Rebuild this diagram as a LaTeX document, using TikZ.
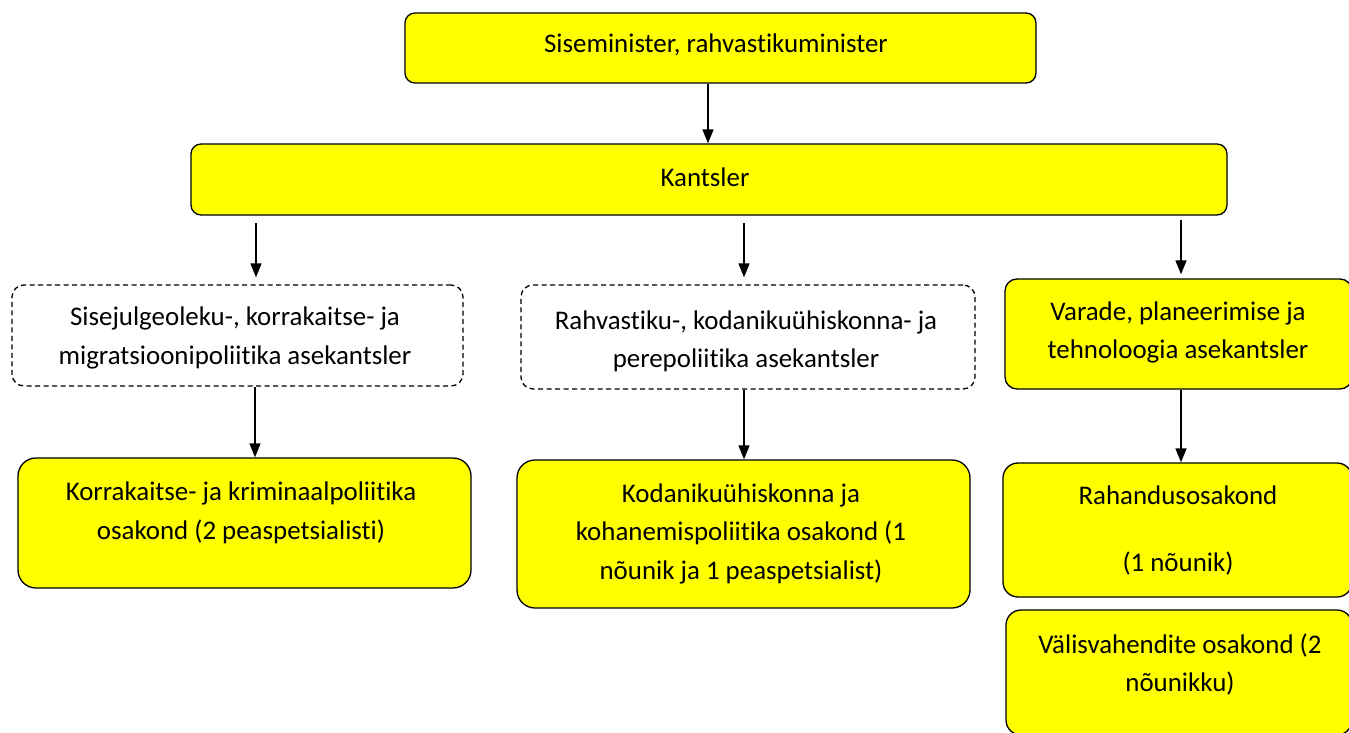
\documentclass[tikz,border=0pt]{standalone}
\usepackage{fontspec}
\setmainfont[RawFeature=-liga]{Carlito}
\usetikzlibrary{arrows.meta,calc}
\definecolor{boxyellow}{HTML}{FFFF00}
\begin{document}
\begin{tikzpicture}[x=1pt,y=-1pt,
  ybox/.style={draw,line width=1.3pt,fill=boxyellow,rounded corners=12pt,inner sep=0pt},
  dbox/.style={draw,line width=1.3pt,dash pattern=on 5pt off 3.5pt,rounded corners=12pt,inner sep=0pt},
  txt/.style={align=center,font=\fontsize{26.9}{38.5}\selectfont,inner sep=0pt},
  arr/.style={line width=1.5pt,-{Triangle[width=11pt,length=14pt]}}]
\useasboundingbox (0,0) rectangle (1349,733);
\clip (0,0) rectangle (1349,733);
% boxes
\node[ybox,rounded corners=10pt,minimum width=631pt,minimum height=70pt] (top) at (720.5,48) {};
\node[ybox,rounded corners=10pt,minimum width=1036pt,minimum height=71pt] (kant) at (709,179.5) {};
\node[dbox,minimum width=451pt,minimum height=101pt] (d1) at (237.5,335.5) {};
\node[dbox,minimum width=454pt,minimum height=104pt] (d2) at (748,337) {};
\node[ybox,minimum width=347pt,minimum height=110pt] (r1) at (1178.5,334) {};
\node[ybox,rounded corners=18pt,minimum width=453pt,minimum height=130pt] (b1) at (244.5,523) {};
\node[ybox,rounded corners=18pt,minimum width=453pt,minimum height=148pt] (b2) at (743.5,534) {};
\node[ybox,rounded corners=15pt,minimum width=349pt,minimum height=134pt] (r2) at (1177.5,530) {};
\node[ybox,rounded corners=15pt,minimum width=346pt,minimum height=125pt] (r3) at (1179,672.5) {};
% texts
\node[txt] (topt) at (716,45) {Siseminister, rahvastikuminister};
\node[txt] (kantt) at (705,177) {Kantsler};
\node[txt] (d1t) at (235,338) {Sisejulgeoleku-, korrakaitse- ja\\migratsioonipoliitika asekantsler};
\node[txt] (d2t) at (746,341.5) {Rahvastiku-, kodanikuühiskonna- ja\\perepoliitika asekantsler};
\node[txt] (r1t) at (1178,332.5) {Varade, planeerimise ja\\tehnoloogia asekantsler};
\node[txt] (b1t) at (241,513) {Korrakaitse- ja kriminaalpoliitika\\osakond (2 peaspetsialisti)};
\node[txt] (b2t) at (741,533.5) {Kodanikuühiskonna ja\\kohanemispoliitika osakond (1\\nõunik ja 1 peaspetsialist)};
\node[txt] (r2t) at (1178,531) {Rahandusosakond\\[28.5pt](1 nõunik)};
\node[txt] (r3t) at (1180,664.5) {Välisvahendite osakond (2\\nõunikku)};
% connectors
\coordinate (a0) at (708,0);
\coordinate (a1) at (256,0);
\coordinate (a2) at (744,0);
\coordinate (a3) at (1181,0);
\coordinate (a4) at (255,0);
\draw[arr] (top.south -| a0) -- (kant.north -| a0);
\draw[arr,shorten <=7pt,shorten >=7pt] (kant.south -| a1) -- (d1.north -| a1);
\draw[arr,shorten <=7pt,shorten >=7pt] (kant.south -| a2) -- (d2.north -| a2);
\draw[arr,shorten <=4pt,shorten >=4pt] (kant.south -| a3) -- (r1.north -| a3);
\draw[arr] (d1.south -| a4) -- (b1.north -| a4);
\draw[arr] (d2.south -| a2) -- (b2.north -| a2);
\draw[arr] (r1.south -| a3) -- (r2.north -| a3);
\end{tikzpicture}
\end{document}
